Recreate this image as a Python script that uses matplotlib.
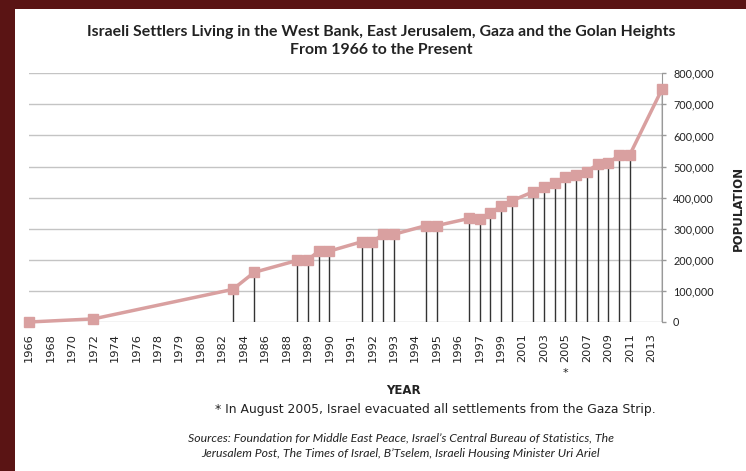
import numpy as np
import matplotlib.pyplot as plt
from matplotlib.patches import Rectangle
from matplotlib.ticker import FuncFormatter

# --- DATA ---
# category axis (Excel-style): every other category is labelled
years = ['1966', '1967', '1968', '1969', '1970', '1971', '1972', '1973', '1974', '1975',
         '1976', '1977', '1978', '1978', '1979', '1979', '1980', '1981', '1982', '1983',
         '1984', '1985', '1986', '1987', '1988', '1988', '1989', '1989', '1990', '1990',
         '1991', '1991', '1992', '1992', '1993', '1993', '1994', '1994', '1995', '1995',
         '1996', '1996', '1997', '1998', '1999', '2000', '2001', '2002', '2003', '2004',
         '2005', '2006', '2007', '2008', '2009', '2010', '2011', '2012', '2013', '2014']

# settler population, None where the category has no figure
settlers = [0, None, None, None, None, None, 10000, None, None, None,
            None, None, None, None, None, None, None, None, None, 105000,
            None, 160000, None, None, None, 198000, 200000, 228000, 228000, None,
            None, 258000, 258000, 282000, 282000, None, None, 310000, 310000, None,
            None, 333000, 332000, 350000, 373000, 390000, None, 419000, 433000, 446000,
            465000, 474000, 484000, 507000, 511000, 536000, 538000, None, None, 749000]

footnote_year = '2005'

title = ('Israeli Settlers Living in the West Bank, East Jerusalem, Gaza and the Golan Heights\n'
         'From 1966 to the Present')
note = '* In August 2005, Israel evacuated all settlements from the Gaza Strip.'
sources = ("Sources: Foundation for Middle East Peace, Israel\u2019s Central Bureau of Statistics, The\n"
           "Jerusalem Post, The Times of Israel, B\u2019Tselem, Israeli Housing Minister Uri Ariel")

W, H = 746, 471
fig = plt.figure(figsize=(W / 100, H / 100), dpi=100, facecolor='#5a1414')
# white panel inside the dark red frame
fig.patches.append(Rectangle((15 / W, 0), (W - 15) / W, (H - 9) / H, transform=fig.transFigure,
                             facecolor='white', edgecolor='none', zorder=-10))

ax = fig.add_axes([29 / W, 149 / H, 633 / W, 248.7 / H])
ax.set_facecolor('none')

idx = np.arange(len(years))
vals = np.array([np.nan if v is None else v for v in settlers], dtype=float)
ok = ~np.isnan(vals)

line_col = '#d9a0a0'
ax.vlines(idx[ok], 0, vals[ok], color='#333333', lw=1, zorder=2)
ax.plot(idx[ok], vals[ok], color=line_col, lw=2.5, marker='s', ms=7.2,
        mfc=line_col, mec=line_col, zorder=3, clip_on=False)

ax.set_xlim(0, len(years) - 1)
ax.set_ylim(0, 800000)
ax.set_yticks(np.arange(0, 800001, 100000))
ax.yaxis.set_major_formatter(FuncFormatter(lambda v, p: f'{v:,.0f}'))
ax.yaxis.tick_right()
ax.grid(axis='y', color='#c4c4c4', lw=1)
ax.set_axisbelow(True)

ax.set_xticks(idx[::2])
ax.set_xticklabels(years[::2], rotation=90, fontsize=8.2, family='DejaVu Sans', color='#222222')
ax.tick_params(axis='x', length=0, pad=8)
ax.tick_params(axis='y', length=3, width=1, color='#999999', pad=5, labelsize=7.8, labelcolor='#222222')
for lbl in ax.get_yticklabels():
    lbl.set_family('Lato')

for s in ['left', 'top', 'bottom']:
    ax.spines[s].set_visible(False)
ax.spines['right'].set_color('#999999')

# asterisk under the 2005 label
ax.annotate('*', xy=(years.index(footnote_year), 0), xycoords='data', xytext=(0, -37),
            textcoords='offset points', ha='center', va='center', fontsize=8, color='#222222')

fig.text(381 / W, 1 - 41 / H, title, ha='center', va='center', fontsize=11.4,
         fontweight='bold', family='Lato', color='#222222', linespacing=1.3)
fig.text(738 / W, 1 - 208 / H, 'POPULATION', rotation=90, ha='center', va='center',
         fontsize=8.5, fontweight='bold', family='DejaVu Sans', color='#222222')
fig.text(403 / W, 1 - 391 / H, 'YEAR', ha='center', va='center', fontsize=8.5,
         fontweight='bold', family='DejaVu Sans', color='#222222')
fig.text(435 / W, 1 - 410 / H, note, ha='center', va='center', fontsize=8.9,
         family='DejaVu Sans', color='#222222')
fig.text(401 / W, 1 - 446 / H, sources, ha='center', va='center', fontsize=8.8,
         family='Lato', style='italic', color='#222222', linespacing=1.5)

fig.savefig('out.png', dpi=100, facecolor=fig.get_facecolor())
